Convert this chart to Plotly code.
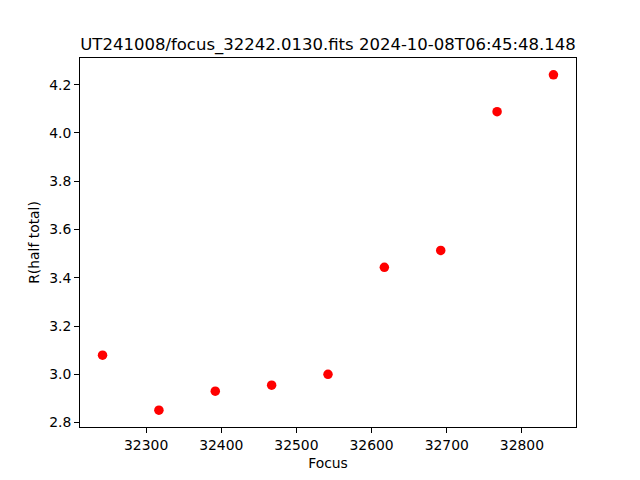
import plotly.graph_objects as go

focus = [32242, 32317, 32392, 32467, 32542, 32617, 32692, 32767, 32842]
r_half = [3.079, 2.851, 2.930, 2.955, 3.000, 3.443, 3.513, 4.088, 4.241]
x_ticks = [32300, 32400, 32500, 32600, 32700, 32800]
y_ticks = [2.8, 3.0, 3.2, 3.4, 3.6, 3.8, 4.0, 4.2]
title = "UT241008/focus_32242.0130.fits 2024-10-08T06:45:48.148"

fig = go.Figure(go.Scatter(x=focus, y=r_half, mode="markers",
                           marker=dict(color="#ff0000", size=9.5, line=dict(width=0))))

font = "DejaVu Sans"
axis_common = dict(showgrid=False, zeroline=False, showline=True, linecolor="black",
                   linewidth=1, mirror=True, ticks="outside", ticklen=5, tickwidth=1,
                   tickcolor="black", tickfont=dict(family=font, size=13.9, color="black"))

# page body has an 8px margin, so the figure is 8px smaller and offset
W, H = 632, 472
xr = (32212, 32872)
yr = (2.7815, 4.3105)
fig.update_layout(
    width=W, height=H,
    margin=dict(l=72, r=64, t=49.6, b=52.8),
    paper_bgcolor="white", plot_bgcolor="white",
    showlegend=False,
    title=dict(text=title, x=0.5, xref="paper", y=1 - 36 / H, yref="container",
               xanchor="center", yanchor="middle",
               font=dict(family=font, size=16.5, color="black")),
    xaxis=dict(range=list(xr), tickvals=x_ticks, ticktext=[str(v) for v in x_ticks],
               title=dict(text="Focus", font=dict(family=font, size=13.9, color="black"), standoff=6),
               **axis_common),
    yaxis=dict(range=list(yr), tickvals=y_ticks, ticktext=[f"{v:.1f}" for v in y_ticks],
               title=dict(text="R(half total)", font=dict(family=font, size=13.9, color="black"), standoff=6),
               **axis_common),
)

fig.write_html("out.html")
